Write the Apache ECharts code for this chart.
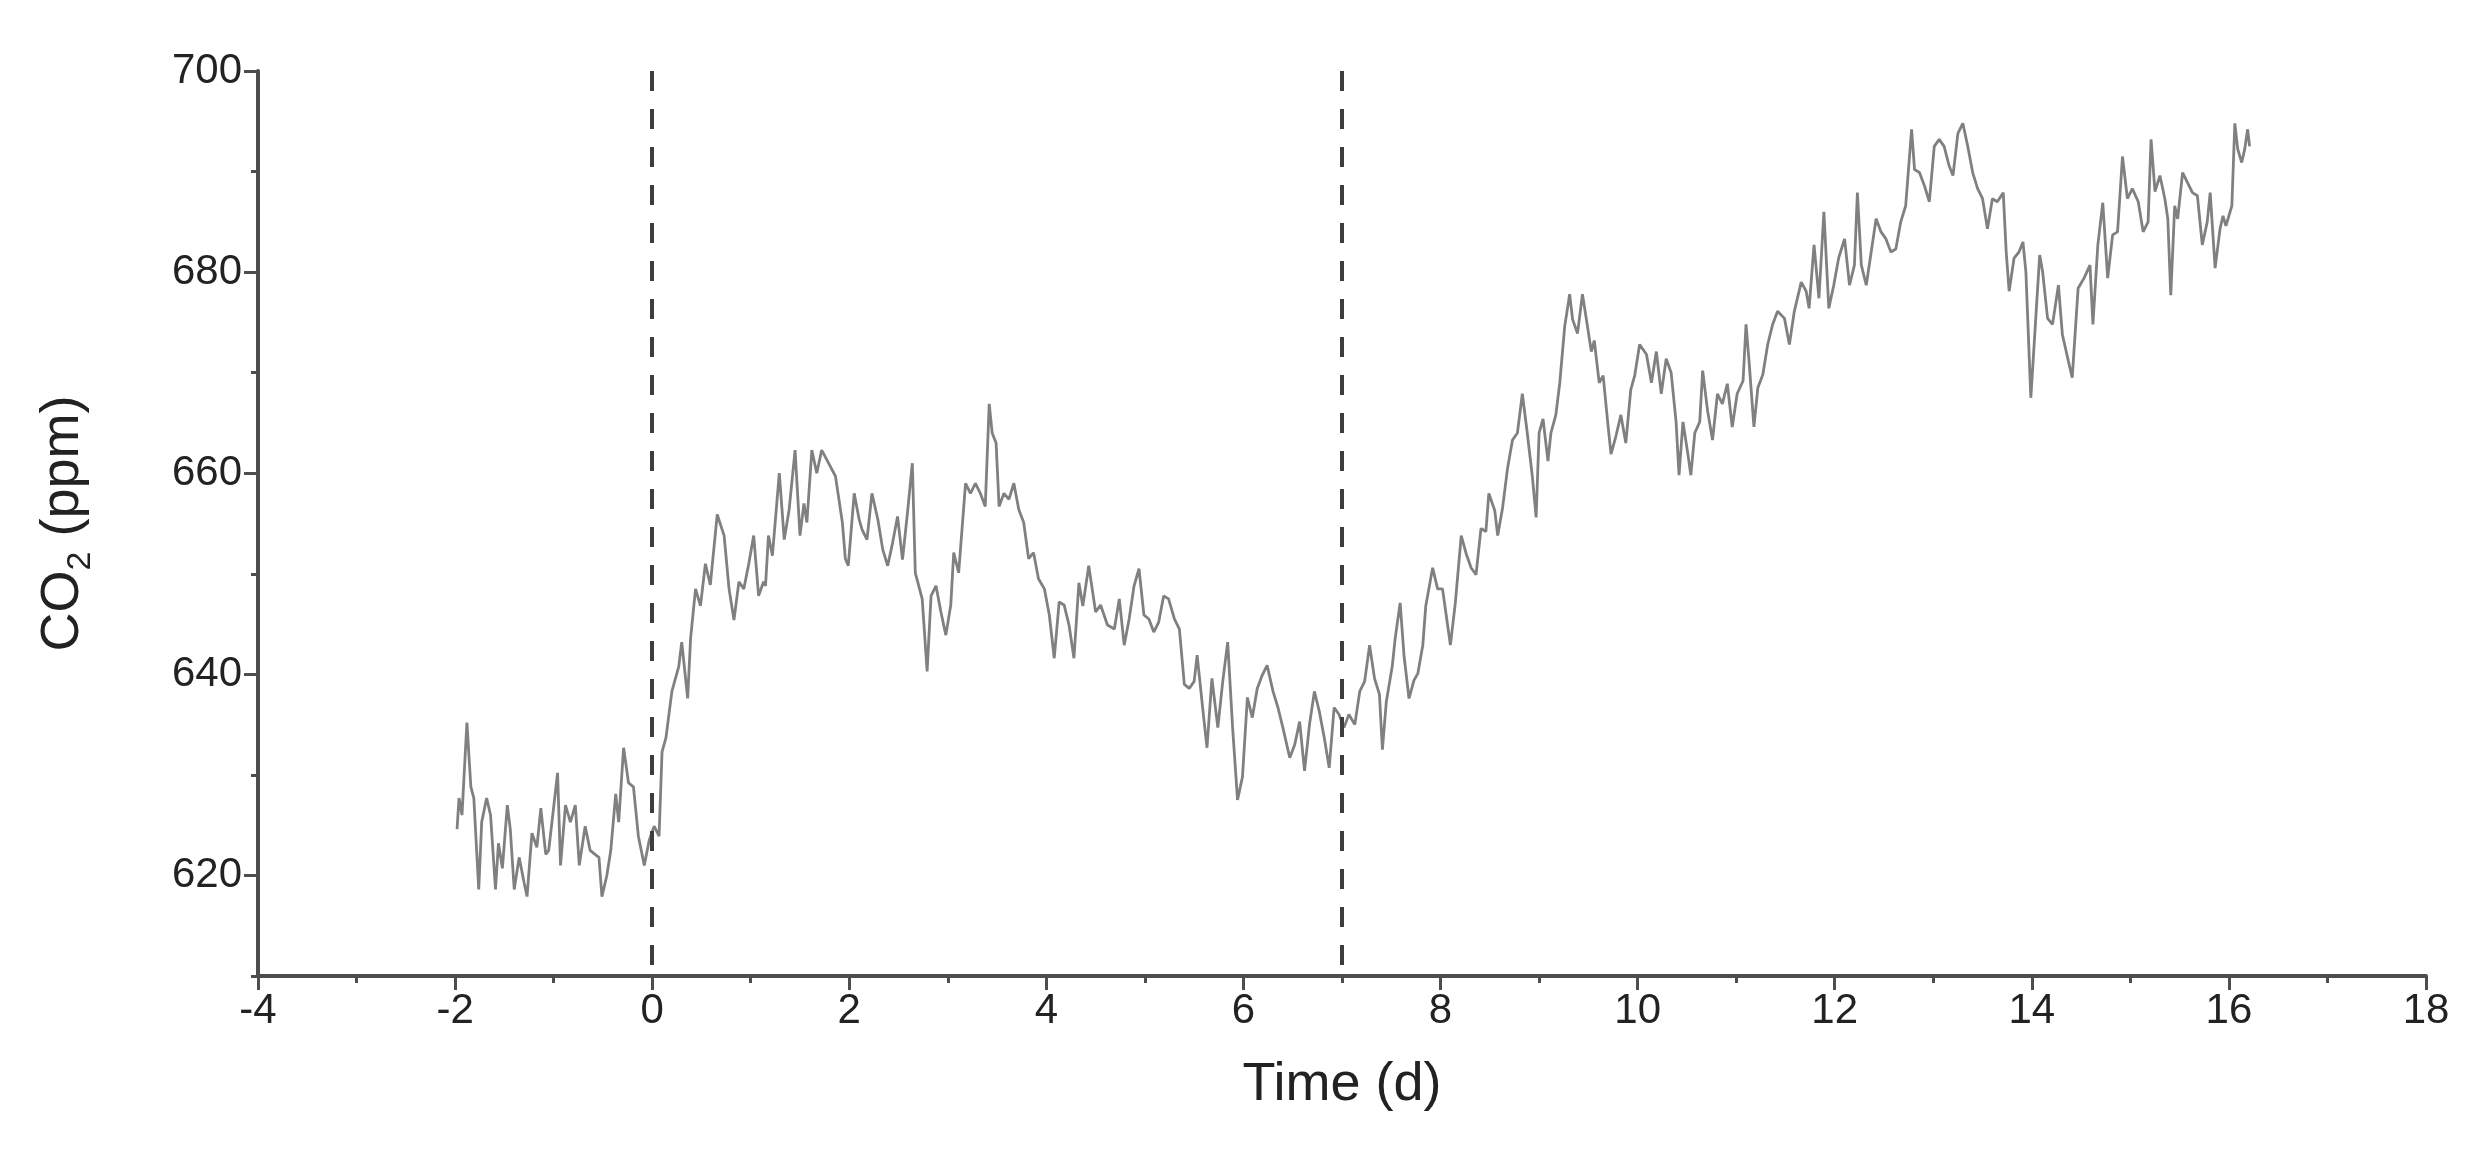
<!DOCTYPE html>
<html>
<head>
<meta charset="utf-8">
<title>CO2 time series</title>
<script src="https://cdn.jsdelivr.net/npm/echarts@6/dist/echarts.min.js"></script>
<style>
  html, body { margin: 0; padding: 0; background: #fff; }
  #chart { width: 2480px; height: 1171px; }
</style>
</head>
<body>
<div id="chart"></div>
<script>
// [time (d), CO2 (ppm)]
const co2Readings = [
  [-1.98,624.6],[-1.96,627.7],[-1.93,626.0],[-1.88,635.2],[-1.84,628.8],[-1.81,627.7],[-1.76,618.6],[-1.73,625.3],[-1.68,627.7],[-1.64,626.0],
  [-1.59,618.6],[-1.56,623.2],[-1.52,620.7],[-1.47,627.0],[-1.44,624.6],[-1.40,618.6],[-1.35,621.8],[-1.30,619.3],[-1.27,617.9],[-1.22,624.2],
  [-1.17,622.8],[-1.13,626.7],[-1.08,622.1],[-1.05,622.5],[-0.96,630.2],[-0.93,621.0],[-0.88,627.0],[-0.83,625.3],[-0.78,627.0],[-0.74,621.0],
  [-0.68,624.9],[-0.63,622.5],[-0.58,622.1],[-0.54,621.8],[-0.51,617.9],[-0.46,620.0],[-0.42,622.5],[-0.37,628.1],[-0.34,625.3],[-0.29,632.7],
  [-0.24,629.2],[-0.19,628.8],[-0.14,623.9],[-0.08,621.0],[-0.03,623.5],[0.02,624.9],[0.07,623.9],[0.10,632.3],[0.14,633.7],[0.20,638.3],
  [0.27,640.8],[0.30,643.2],[0.36,637.6],[0.39,643.6],[0.44,648.5],[0.49,646.8],[0.54,651.0],[0.59,648.9],[0.66,655.9],[0.73,653.8],
  [0.78,648.5],[0.83,645.4],[0.88,649.2],[0.93,648.5],[0.98,651.0],[1.03,653.8],[1.08,647.8],[1.13,649.2],
  [1.15,648.8],[1.18,653.8],[1.22,651.8],[1.29,660.0],[1.34,653.4],[1.39,656.4],[1.45,662.3],[1.50,653.8],[1.54,657.0],[1.57,655.1],
  [1.62,662.3],[1.67,660.0],[1.72,662.3],[1.79,661.0],[1.86,659.7],[1.93,655.1],[1.96,651.5],[1.99,650.8],[2.05,658.0],[2.10,655.4],
  [2.13,654.4],[2.18,653.4],[2.23,658.0],[2.29,655.4],[2.34,652.4],[2.39,650.8],[2.44,653.1],[2.49,655.7],[2.54,651.4],[2.59,656.0],
  [2.64,661.0],[2.67,650.1],[2.74,647.5],[2.79,640.3],[2.83,647.8],[2.88,648.8],[2.93,646.2],[2.98,643.9],[3.03,646.9],[3.06,652.1],
  [3.11,650.1],[3.18,659.0],[3.23,658.0],[3.28,659.0],[3.33,658.0],[3.38,656.7],[3.42,666.9],[3.45,664.0],[3.49,663.0],[3.52,656.7],
  [3.57,658.0],[3.62,657.4],[3.67,659.0],[3.72,656.4],[3.77,655.1],[3.82,651.5],[3.87,652.1],[3.92,649.5],[3.98,648.5],[4.03,645.9],
  [4.08,641.6],[4.13,647.2],[4.18,646.9],[4.23,644.9],[4.28,641.6],[4.33,649.1],
  [4.37,646.8],[4.43,650.8],[4.50,646.2],[4.55,646.9],[4.62,644.9],[4.69,644.5],[4.74,647.5],[4.79,642.9],[4.84,645.5],[4.89,648.8],
  [4.94,650.5],[4.99,645.9],[5.04,645.5],[5.09,644.2],[5.14,645.2],[5.19,647.8],[5.24,647.5],[5.30,645.5],[5.35,644.5],[5.40,639.0],
  [5.45,638.6],[5.50,639.3],[5.53,641.9],[5.59,636.3],[5.63,632.7],[5.68,639.6],[5.74,634.7],[5.79,639.3],[5.84,643.2],[5.89,634.7],
  [5.94,627.5],[5.99,629.8],[6.04,637.7],[6.09,635.7],[6.14,638.6],[6.19,639.9],[6.24,640.9],[6.30,638.3],[6.35,636.7],[6.40,634.7],
  [6.47,631.7],[6.52,633.0],[6.57,635.3],[6.62,630.4],[6.67,635.0],[6.72,638.3],[6.77,636.3],[6.82,633.7],[6.87,630.7],[6.92,636.7],
  [6.97,636.0],[7.02,634.7],[7.07,636.0],[7.13,635.0],[7.18,638.3],[7.23,639.3],[7.28,642.9],[7.33,639.6],[7.38,638.0],
  [7.41,632.5],[7.45,637.3],[7.51,640.8],[7.54,643.6],[7.59,647.1],[7.63,641.8],[7.68,637.6],[7.73,639.4],[7.77,640.1],[7.82,642.9],
  [7.85,646.8],[7.92,650.6],[7.97,648.5],[8.02,648.5],[8.07,645.0],[8.10,642.9],[8.15,647.1],[8.21,653.8],[8.26,652.0],[8.31,650.6],
  [8.36,649.9],[8.41,654.5],[8.46,654.2],[8.49,658.0],[8.55,656.3],[8.58,653.8],[8.63,656.6],[8.68,660.5],[8.73,663.3],[8.78,664.0],
  [8.83,667.9],[8.88,664.0],[8.93,659.8],[8.97,655.6],[9.00,664.0],[9.04,665.4],[9.09,661.2],[9.12,664.0],[9.17,665.8],[9.21,669.0],
  [9.26,674.6],[9.31,677.8],[9.34,675.3],[9.39,673.9],[9.44,677.8],[9.48,675.3],[9.53,672.1],[9.56,673.2],[9.61,669.0],[9.65,669.7],
  [9.70,664.7],[9.73,661.9],[9.78,663.7],[9.83,665.8],[9.88,663.0],[9.93,668.3],[9.97,669.7],[10.02,672.8],[10.09,671.8],[10.14,669.0],
  [10.19,672.1],[10.24,667.9],[10.29,671.4],[10.34,670.0],[10.39,665.1],[10.42,659.8],[10.46,665.1],[10.51,661.9],[10.54,659.8],[10.58,664.0],
  [10.63,665.1],
  [10.66,670.2],[10.71,666.2],[10.76,663.3],[10.81,667.9],[10.86,666.9],[10.91,668.9],[10.96,664.6],[11.01,667.9],[11.07,669.2],[11.10,674.8],
  [11.13,671.2],[11.18,664.6],[11.22,668.5],[11.27,669.8],[11.32,672.8],[11.37,674.8],[11.42,676.1],[11.49,675.4],[11.54,672.8],[11.59,676.1],
  [11.66,679.0],[11.71,678.1],[11.74,676.4],[11.79,682.7],[11.84,677.4],[11.89,686.0],[11.94,676.4],[11.99,678.7],[12.04,681.4],[12.10,683.3],
  [12.15,678.7],[12.20,680.7],[12.23,687.9],[12.27,680.7],[12.32,678.7],[12.37,682.0],[12.42,685.3],[12.47,684.0],[12.52,683.3],[12.57,682.0],
  [12.62,682.3],[12.67,685.0],[12.72,686.6],[12.78,694.2],[12.81,690.2],[12.86,689.9],[12.91,688.6],[12.96,687.0],[13.01,692.5],[13.06,693.2],
  [13.11,692.5],[13.16,690.6],[13.20,689.6],[13.25,693.8],[13.30,694.8],[13.35,692.5],[13.40,689.9],[13.45,688.3],[13.50,687.3],[13.55,684.3],
  [13.60,687.3],[13.65,687.0],
  [13.71,687.9],[13.74,682.0],[13.77,678.1],[13.82,681.4],[13.87,682.0],[13.91,683.0],[13.94,680.0],[13.99,667.5],[14.04,675.4],[14.08,681.7],
  [14.11,680.0],[14.16,675.4],[14.21,674.8],[14.27,678.7],[14.31,673.8],[14.37,671.2],[14.41,669.5],[14.47,678.4],[14.53,679.4],[14.59,680.7],
  [14.62,674.8],[14.67,682.7],[14.72,686.9],[14.77,679.4],[14.82,683.7],[14.87,684.0],[14.92,691.5],[14.97,687.3],[15.02,688.3],[15.08,687.0],
  [15.13,684.0],[15.18,685.0],[15.21,693.2],[15.25,688.0],[15.30,689.6],[15.35,687.3],[15.38,685.3],[15.41,677.7],[15.45,686.6],[15.48,685.3],
  [15.53,689.9],[15.58,688.9],[15.63,687.9],[15.68,687.6],[15.73,682.7],[15.78,685.0],[15.81,687.9],[15.86,680.4],[15.91,684.3],[15.94,685.6],
  [15.97,684.6],[16.03,686.6],[16.06,694.8],[16.09,692.2],[16.13,690.9],[16.16,692.2],[16.19,694.2],[16.21,692.5]
]

// dashed markers (days)
const phaseBreaks = [0, 7]

const yMin = 610
const yMax = 700
const yMajorTicks = [620, 640, 660, 680, 700]

const font = "'Liberation Sans', Arial, sans-serif"
const axisColor = '#4d4d4d'
const textColor = '#222'

const chart = echarts.init(document.getElementById('chart'))

const option = {
  animation: false,
  backgroundColor: '#fff',
  grid: { left: 258, right: 54, top: 71, bottom: 195, containLabel: false },
  xAxis: {
    type: 'value',
    min: -4,
    max: 18,
    interval: 2,
    name: 'Time (d)',
    nameLocation: 'middle',
    nameGap: 82,
    nameTextStyle: { fontSize: 54, color: textColor, fontFamily: font },
    axisLine: { onZero: false, lineStyle: { color: axisColor, width: 4 } },
    axisTick: { length: 14, lineStyle: { color: axisColor, width: 3 } },
    minorTick: { show: true, splitNumber: 2, length: 7, lineStyle: { color: axisColor, width: 3 } },
    splitLine: { show: false },
    axisLabel: { fontSize: 42, color: textColor, fontFamily: font, margin: 14 }
  },
  yAxis: [
    {
      type: 'value',
      min: yMin,
      max: yMax,
      interval: 10,
      name: 'CO{sub|2} (ppm)',
      nameLocation: 'middle',
      nameGap: 160,
      nameTextStyle: {
        fontSize: 54,
        color: textColor,
        fontFamily: font,
        lineHeight: 70,
        rich: {
          sub: { fontSize: 34, lineHeight: 34, verticalAlign: 'bottom', color: textColor, fontFamily: font }
        }
      },
      axisLine: { show: true, onZero: false, lineStyle: { color: axisColor, width: 4 } },
      axisTick: { show: true, length: 14, customValues: yMajorTicks, lineStyle: { color: axisColor, width: 3 } },
      splitLine: { show: false },
      axisLabel: { fontSize: 42, color: textColor, fontFamily: font, margin: 16, customValues: yMajorTicks }
    },
    {
      // minor ticks every 10 ppm
      type: 'value',
      min: yMin,
      max: yMax,
      interval: 10,
      position: 'left',
      axisLine: { show: false, onZero: false },
      axisTick: { show: true, length: 7, lineStyle: { color: axisColor, width: 3 } },
      axisLabel: { show: false },
      splitLine: { show: false }
    }
  ],
  series: [
    {
      type: 'line',
      data: co2Readings,
      showSymbol: false,
      lineStyle: { color: '#808080', width: 2.8 },
      markLine: {
        silent: true,
        symbol: 'none',
        label: { show: false },
        lineStyle: { color: '#3d3d3d', width: 4, type: [20, 18] },
        // drawn top-down so the dash pattern starts at the 700 line
        data: phaseBreaks.map(d => [{ coord: [d, yMax] }, { coord: [d, yMin] }])
      }
    }
  ]
}

chart.setOption(option)
</script>
</body>
</html>
